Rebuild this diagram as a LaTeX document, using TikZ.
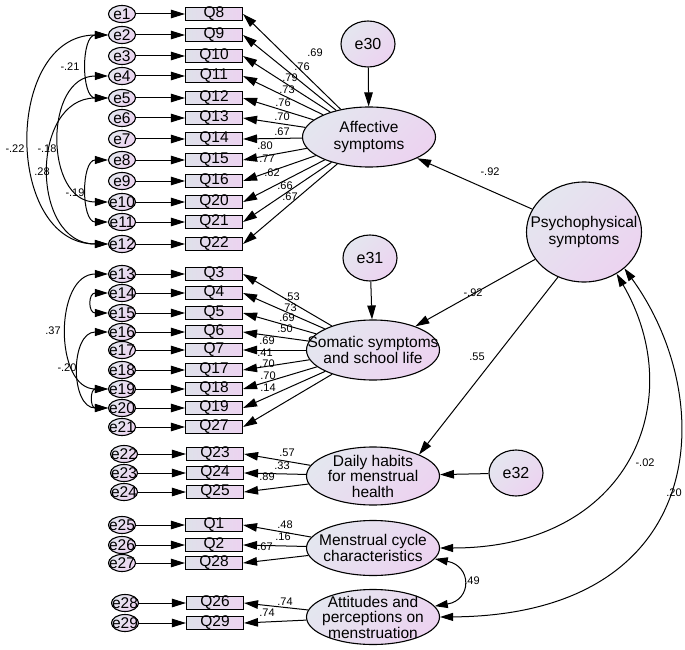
\documentclass[tikz,border=0pt]{standalone}
\usepackage{fontspec}
\setmainfont{Liberation Sans}
\usetikzlibrary{arrows.meta,shapes.geometric}
\definecolor{shadeL}{HTML}{E4E6EF}
\definecolor{shadeR}{HTML}{ECD3F0}
\definecolor{itemL}{HTML}{DFE1EA}

\begin{document}
\begin{tikzpicture}[x=1pt,y=-1pt]
    \tikzstyle{arrow} = [line width=1pt,-{Triangle[length=14pt,width=8.5pt]}]
    \tikzstyle{covar} = [line width=1pt,{Triangle[length=13pt,width=8pt]}-{Triangle[length=13pt,width=8pt]}]
    \tikzstyle{err} = [draw, ellipse, line width=1.1pt, left color=shadeL, right color=shadeR, shading angle=45, minimum width=27pt, minimum height=17pt, inner sep=0pt]
    \tikzstyle{etext} = [inner sep=0pt, font=\fontsize{15.5}{15.5}\selectfont]
    \tikzstyle{disturb} = [err, minimum width=54pt, minimum height=46pt, font=\fontsize{16}{16}\selectfont]
    \tikzstyle{item} = [draw, rectangle, line width=1.1pt, left color=itemL, right color=shadeR, minimum width=57pt, minimum height=13pt, inner sep=0pt, font=\fontsize{15.5}{15.5}\selectfont]
    \tikzstyle{latent} = [draw, ellipse, line width=1.1pt, left color=shadeL, right color=shadeR, shading angle=45, minimum width=133pt, minimum height=58pt, inner sep=0pt]
    \tikzstyle{ltext} = [align=center, inner sep=0pt, font=\fontsize{15.5}{16.5}\selectfont]
    \tikzstyle{coef} = [inner sep=0pt, font=\fontsize{11}{11}\selectfont]

    \useasboundingbox (0,0) rectangle (685,650);

    % Second order factor
    \node [latent, minimum width=115pt, minimum height=100pt, label={[ltext]center:{Psychophysical\\symptoms}}] (Psych) at (584,232) {};

    % First order factors and their disturbances
    \node [latent, minimum height=60pt, label={[ltext]center:{Affective\\symptoms}}] (Aff) at (369,137) {};
    \node [disturb] (e30) at (368,44) {e30};
    \draw [arrow] (e30) -- (Aff);

    \node [latent, minimum height=60pt, label={[ltext]center:{Somatic symptoms\\and school life}}] (Som) at (373,350) {};
    \node [disturb] (e31) at (370,258) {e31};
    \draw [arrow] (e31) -- (Som);

    \node [latent, label={[ltext,font=\fontsize{15.5}{15.5}\selectfont]center:{Daily habits\\for menstrual\\health}}] (Daily) at (373,476) {};
    \node [disturb] (e32) at (516,473) {e32};
    \draw [arrow] (e32) -- (Daily);

    \node [latent, minimum height=55pt, label={[ltext]center:{Menstrual cycle\\characteristics}}] (Menst) at (373,548) {};
    \node [latent, minimum height=55pt, label={[ltext,font=\fontsize{15.5}{15.5}\selectfont]center:{Attitudes and\\perceptions on\\menstruation}}] (Att) at (373,617) {};

    % Structural paths
    \draw [arrow] (Psych) -- (Aff);
    \node [coef] (cAff) at (490,172) {-.92};
    \draw [arrow] (Psych) -- (Som);
    \node [coef] (cSom) at (473,293) {-.92};
    \draw [arrow] (Psych.-120) -- (Daily.25);
    \node [coef] (cDaily) at (477,357) {.55};

    % Correlations on the right
    \draw [covar] (Psych.-52) .. controls (690,400) and (630,548) .. (Menst.east);
    \node [coef] (cMenst) at (645,463) {-.02};
    \draw [covar] (Psych.-42) .. controls (720,400) and (710,615) .. (Att.east);
    \node [coef] (cAtt) at (674,493) {.20};
    \draw [covar] (Menst.-10) .. controls (472,566) and (472,600) .. (Att.10);
    \node [coef] (cMA) at (472,581) {.49};

    % Affective items
    \foreach \e/\q/\y/\cf/\lx/\ly in {e1/Q8/14/.69/315/53, e2/Q9/35/.76/302/67, e3/Q10/56/.79/290/78,
        e4/Q11/76/.73/287/90, e5/Q12/98/.76/283/103, e6/Q13/118/.70/282/117, e7/Q14/139/.67/282/132,
        e8/Q15/160/.80/265/146, e9/Q16/181/.77/267/159, e10/Q20/202/.62/272/173, e11/Q21/222/.66/285/186,
        e12/Q22/244/.67/290/197}{
        \node [err, label={[etext]center:\e}] (\e) at (122,\y) {};
        \node [item] (\q) at (214,\y) {\q};
        \draw [arrow] (\e) -- (\q);
        \draw [arrow] (Aff) -- (\q.east);
        \node [coef] (c\q) at (\lx,\ly) {\cf};
    }

    % Somatic items
    \foreach \e/\q/\y/\cf/\lx/\ly in {e13/Q3/274/.53/292/297, e14/Q4/293/.73/289/307.5, e15/Q5/313/.69/287/318,
        e16/Q6/332/.50/285/329, e17/Q7/350/.69/267/341, e18/Q17/370/.41/265/353, e19/Q18/389/.70/267/364,
        e20/Q19/408/.70/268/376, e21/Q27/427/.14/268/388}{
        \node [err, label={[etext]center:\e}] (\e) at (122,\y) {};
        \node [item] (\q) at (214,\y) {\q};
        \draw [arrow] (\e) -- (\q);
        \draw [arrow] (Som) -- (\q.east);
        \node [coef] (c\q) at (\lx,\ly) {\cf};
    }

    % Daily habits items
    \foreach \e/\q/\y/\cf/\lx/\ly in {e22/Q23/454/.57/287/453, e23/Q24/473/.33/282/466, e24/Q25/492/.89/267/477}{
        \node [err, label={[etext]center:\e}] (\e) at (124,\y) {};
        \node [item] (\q) at (215,\y) {\q};
        \draw [arrow] (\e) -- (\q);
        \draw [arrow] (Daily) -- (\q.east);
        \node [coef] (c\q) at (\lx,\ly) {\cf};
    }

    % Menstrual cycle items
    \foreach \e/\q/\y/\cf/\lx/\ly in {e25/Q1/525/.48/285/525, e26/Q2/545/.16/283/537, e27/Q28/563/.67/265/547}{
        \node [err, label={[etext]center:\e}] (\e) at (122,\y) {};
        \node [item] (\q) at (214,\y) {\q};
        \draw [arrow] (\e) -- (\q);
        \draw [arrow] (Menst) -- (\q.east);
        \node [coef] (c\q) at (\lx,\ly) {\cf};
    }

    % Attitudes items
    \foreach \e/\q/\y/\cf/\lx/\ly in {e28/Q26/603/.74/285/602, e29/Q29/623/.74/267/613}{
        \node [err, label={[etext]center:\e}] (\e) at (125,\y) {};
        \node [item] (\q) at (215,\y) {\q};
        \draw [arrow] (\e) -- (\q);
        \draw [arrow] (Att) -- (\q.east);
        \node [coef] (c\q) at (\lx,\ly) {\cf};
    }

    % Error covariances
    \draw [covar] (e2.west) .. controls (4,35) and (4,244) .. (e12.west);
    \node [coef] (v1) at (15,149) {-.22};
    \draw [covar] (e2.west) .. controls (81,35) and (81,98) .. (e5.west);
    \node [coef] (v2) at (70,67) {-.21};
    \draw [covar] (e4.west) .. controls (44,76) and (44,202) .. (e10.west);
    \node [coef] (v3) at (47,149) {-.18};
    \draw [covar] (e5.west) .. controls (30,98) and (30,244) .. (e12.west);
    \node [coef] (v4) at (42,172) {.28};
    \draw [covar] (e8.west) .. controls (81,160) and (81,222) .. (e11.west);
    \node [coef] (v5) at (75,193) {-.19};
    \draw [covar] (e13.west) .. controls (54,274) and (54,389) .. (e19.west);
    \node [coef] (v6) at (53,331) {.37};
    \draw [covar] (e14.west) .. controls (88,293) and (88,313) .. (e15.west);
    \draw [covar] (e16.west) .. controls (70,332) and (70,408) .. (e20.west);
    \node [coef] (v7) at (67,368) {-.20};
    \draw [covar] (e19.west) .. controls (90,389) and (90,408) .. (e20.west);
\end{tikzpicture}
\end{document}
